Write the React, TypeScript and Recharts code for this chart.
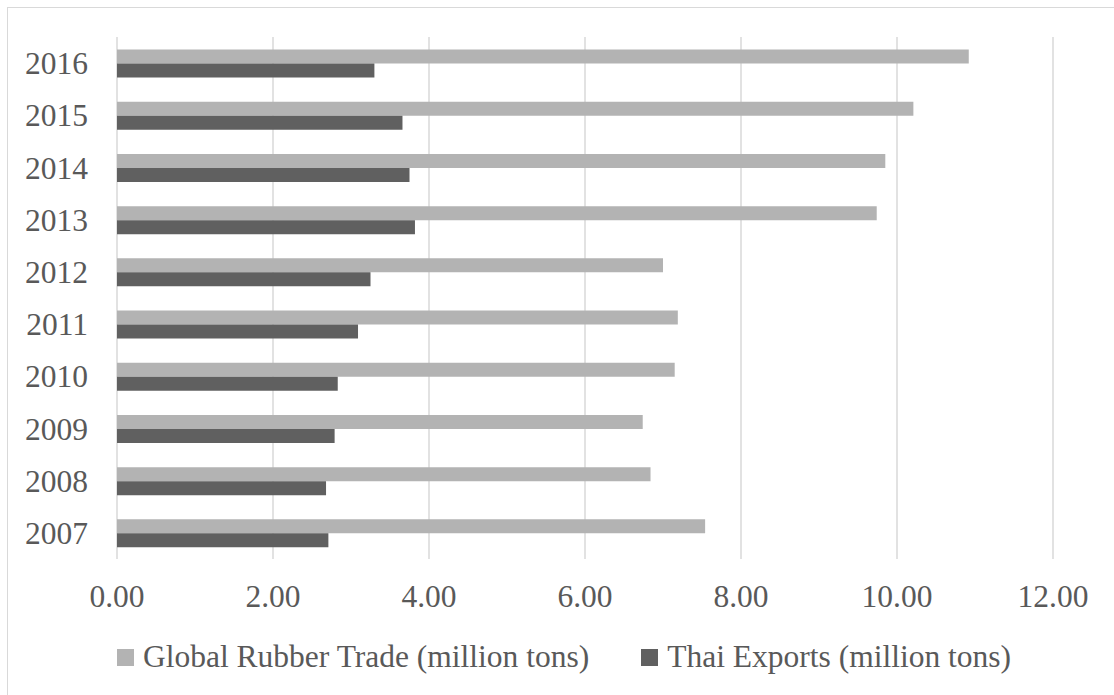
import React from 'react';
import { BarChart, Bar, XAxis, YAxis, CartesianGrid, Legend } from 'recharts';

const years = ['2007', '2008', '2009', '2010', '2011', '2012', '2013', '2014', '2015', '2016'];
const globalTrade = [7.54, 6.84, 6.74, 7.15, 7.19, 7.0, 9.74, 9.85, 10.21, 10.92];
const thaiExports = [2.71, 2.68, 2.79, 2.83, 3.09, 3.25, 3.82, 3.75, 3.66, 3.3];
const xTicks = [0, 2, 4, 6, 8, 10, 12];

const GLOBAL_NAME = 'Global Rubber Trade (million tons)';
const THAI_NAME = 'Thai Exports (million tons)';

const data = years.map((year, i) => ({ year, global: globalTrade[i], thai: thaiExports[i] }));

const font = '"Liberation Serif", "Times New Roman", serif';
const textColor = '#595959';

function LegendBox({ payload }: { payload?: any[] }) {
  return (
    <div style={{ height: 50, display: 'flex', alignItems: 'center', paddingLeft: 109, fontFamily: font, fontSize: 31.5, color: textColor }}>
      {(payload || []).map((p, i) => (
        <div key={p.value} style={{ display: 'flex', alignItems: 'center', marginRight: i === 0 ? 52 : 0 }}>
          <span style={{ display: 'inline-block', width: 17, height: 17, background: p.color, marginRight: 9 }} />
          <span style={{ lineHeight: '50px', whiteSpace: 'nowrap' }}>{p.value}</span>
        </div>
      ))}
    </div>
  );
}

export default function App() {
  return (
    <div style={{ position: 'fixed', left: 7, top: 7, width: 1107, height: 688, boxSizing: 'border-box', borderTop: '1px solid #d9d9d9', borderLeft: '1px solid #d9d9d9', overflow: 'hidden', background: '#fff' }}>
      <BarChart
        width={1106}
        height={687}
        data={data}
        layout="vertical"
        margin={{ top: 29, right: 61, left: 0, bottom: 13 }}
        barCategoryGap="24%"
        barGap={0}
      >
        <CartesianGrid horizontal={false} stroke="#d9d9d9" strokeWidth={1.5} />
        <XAxis
          type="number"
          domain={[0, 12]}
          ticks={xTicks}
          tickFormatter={(v: number) => v.toFixed(2)}
          axisLine={false}
          tickLine={false}
          tickSize={0}
          tickMargin={26}
          height={73}
          tick={{ fill: textColor, fontSize: 31.5, fontFamily: font }}
        />
        <YAxis
          type="category"
          dataKey="year"
          reversed
          axisLine={false}
          tickLine={false}
          tickSize={0}
          tickMargin={29}
          width={109}
          tick={{ fill: textColor, fontSize: 31.5, fontFamily: font }}
        />
        <Legend verticalAlign="bottom" content={<LegendBox />} wrapperStyle={{ left: 0, width: 1106 }} />
        <Bar dataKey="global" name={GLOBAL_NAME} fill="#b3b3b3" isAnimationActive={false} />
        <Bar dataKey="thai" name={THAI_NAME} fill="#606060" isAnimationActive={false} />
      </BarChart>
    </div>
  );
}
